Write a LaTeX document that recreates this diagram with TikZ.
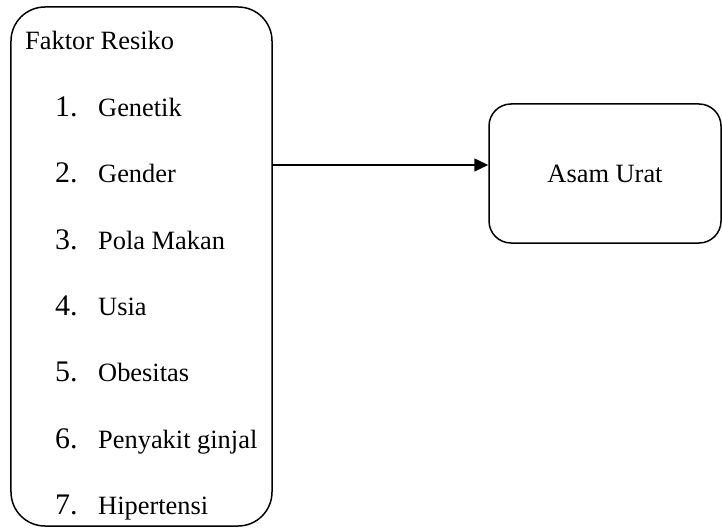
\documentclass[tikz,border=0pt]{standalone}
\usepackage{fontspec}
\setmainfont{Liberation Serif}
\usetikzlibrary{arrows.meta}
\begin{document}
\begin{tikzpicture}[x=1bp,y=-1bp,
  box/.style={draw,line width=1.5bp,rounded corners=#1,inner sep=0pt},
  txt/.style={anchor=base west,inner sep=0pt,font=\fontsize{26.5}{28}\selectfont},
  num/.style={anchor=base west,inner sep=0pt,font=\fontsize{30}{32}\selectfont},
  conn/.style={line width=1.5bp,-{Triangle[length=14bp,width=13bp]}}]
\useasboundingbox (0,0) rectangle (722,528);
\node[box=34bp,minimum width=261bp,minimum height=519bp] (L) at (141.5,266.5) {};
\node[box=22bp,minimum width=232bp,minimum height=139bp] (R) at (605,173.5) {};
\node[txt] (t0) at (25,50) {Faktor Resiko};
\foreach \i/\t [count=\k] in {1/Genetik,2/Gender,3/Pola Makan,4/Usia,5/Obesitas,6/Penyakit ginjal,7/Hipertensi}{
  \node[num] (n\k) at (55,{116.5+(\k-1)*66.3}) {\i.};
  \node[txt] (t\k) at (98,{116.5+(\k-1)*66.3}) {\t};
}
\node[font=\fontsize{26.5}{28}\selectfont,inner sep=0pt] (a) at (R.center) {Asam Urat};
\coordinate (ay) at (0,165);
\draw[conn] (L.east |- ay) -- (R.west |- ay);
\end{tikzpicture}
\end{document}
